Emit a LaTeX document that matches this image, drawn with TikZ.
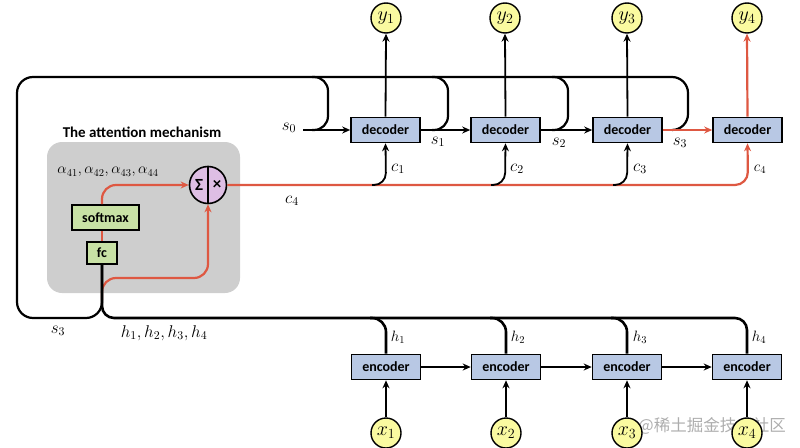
\RequirePackage{fix-cm}
\documentclass[tikz,border=0pt]{standalone}
\usepackage{fontspec}
\setsansfont{Carlito}
\newfontfamily\cjk{Noto Sans CJK SC}
\usetikzlibrary{arrows.meta,calc}
\definecolor{myred}{RGB}{222,88,66}
\definecolor{decblue}{RGB}{184,200,228}
\definecolor{ioyellow}{RGB}{250,250,160}
\definecolor{boxgreen}{RGB}{200,225,165}
\definecolor{sigpink}{RGB}{222,190,228}
\definecolor{attgray}{RGB}{206,206,206}
\begin{document}
\begin{tikzpicture}[x=1pt,y=-1pt,
  box/.style={draw, line width=1.6pt, minimum width=69pt, minimum height=25pt, inner sep=0pt, font=\sffamily\bfseries\fontsize{14}{14}\selectfont},
  codebox/.style={box, fill=decblue},
  grbox/.style={box, fill=boxgreen},
  io/.style={circle, draw, line width=1.4pt, fill=ioyellow, minimum size=30pt, inner sep=0pt, font=\fontsize{20}{20}\selectfont},
  bus/.style={line width=2.2pt},
  hbus/.style={line width=2.6pt},
  arr/.style={line width=1.8pt, -{Stealth[length=8pt,width=7pt]}},
  rarr/.style={arr, myred, line width=2.2pt},
  lab/.style={inner sep=0pt, font=\fontsize{17}{17}\selectfont},
  slab/.style={inner sep=0pt, font=\fontsize{15}{15}\selectfont}]
\useasboundingbox (0,0) rectangle (800,447);
\node[inner sep=0pt, text=black!40, opacity=0.8, font=\cjk\fontsize{16.5}{16.5}\selectfont] (wm) at (712,426) {@稀土掘金技术社区};
% attention background
\node[fill=attgray, rounded corners=15pt, minimum width=193pt, minimum height=151pt, inner sep=0pt] (att) at (143.5,217.5) {};
\node[inner sep=0pt, font=\sffamily\bfseries\fontsize{15}{15}\selectfont] (title) at (142,132) {The attention mechanism};
% nodes
\node[codebox] (dec1) at (385.5,130) {decoder};
\node[codebox] (dec2) at (505.5,130) {decoder};
\node[codebox] (dec3) at (627.5,130) {decoder};
\node[codebox] (dec4) at (747.5,130) {decoder};
\node[io] (y1) at (386,18) {$y_1$};
\node[io] (y2) at (505,18) {$y_2$};
\node[io] (y3) at (627,18) {$y_3$};
\node[io] (y4) at (747,18) {$y_4$};
\node[codebox] (enc1) at (386,367) {encoder};
\node[codebox] (enc2) at (506,367) {encoder};
\node[codebox] (enc3) at (627,367) {encoder};
\node[codebox] (enc4) at (747,367) {encoder};
\node[io] (x1) at (386,433) {$x_1$};
\node[io] (x2) at (506,433) {$x_2$};
\node[io] (x3) at (627,433) {$x_3$};
\node[io] (x4) at (747,433) {$x_4$};
\node[grbox, minimum width=67pt] (softmax) at (105.5,217.5) {softmax};
\node[grbox, minimum width=30pt, minimum height=22pt] (fc) at (102,253) {fc};
\node[circle, draw, line width=1.6pt, fill=sigpink, minimum size=37pt, inner sep=0pt] (sig) at (208,185) {};
% red attention paths (below black)
\draw[myred, line width=2.2pt] (fc.north) -- (softmax.south -| fc.north);
\draw[rarr, rounded corners=14pt] (softmax.north -| fc.north) -- (102,185) -- (sig.west);
\draw[rarr, rounded corners=14pt] (102,300) -- (102,278) -- (208,278) -- (sig.south);
\draw[line width=1.6pt] (sig.north) -- (sig.south);
\node[inner sep=0pt, font=\sffamily\bfseries\fontsize{17}{17}\selectfont] (sigma) at ($(sig.center)+(-9,0)$) {Σ};
\node[inner sep=0pt, font=\sffamily\bfseries\fontsize{17}{17}\selectfont] (times) at ($(sig.center)+(9,0)$) {×};
% c lines
\draw[rarr, rounded corners=13pt] (sig.east) -- (748,185) -- (dec4.south);
\draw[arr, rounded corners=12pt] (372,185) -- (386,185) -- (dec1.south);
\draw[arr, rounded corners=12pt] (491,185) -- (505,185) -- (dec2.south);
\draw[arr, rounded corners=12pt] (613,185) -- (627,185) -- (dec3.south);
% top feedback bus (s3 back to attention)
\draw[bus, rounded corners=16pt] (672,130) -- (688,130) -- (688,77) -- (17,77) -- (17,318) -- (102,318) -- (fc.south);
\draw[bus, rounded corners=14pt] (312,130) -- (328,130) -- (328,77) -- (312,77);
\draw[bus, rounded corners=14pt] (432,130) -- (448,130) -- (448,77) -- (432,77);
\draw[bus, rounded corners=14pt] (552,130) -- (568,130) -- (568,77) -- (552,77);
% decoder chain
\coordinate (s0start) at (303,130);
\draw[arr] (s0start) -- (dec1.west);
\draw[arr] (dec1.east) -- (dec2.west);
\draw[arr] (dec2.east) -- (dec3.west);
\draw[rarr] (dec3.east) -- (dec4.west);
\draw[arr] (dec1.north) -- (y1.south);
\draw[arr] (dec2.north) -- (y2.south);
\draw[arr] (dec3.north) -- (y3.south);
\draw[rarr] (dec4.north) -- (y4.south);
% h bus
\draw[hbus, rounded corners=12pt] (fc.south) -- (102,318) -- (747,318) -- (enc4.north);
\draw[hbus, rounded corners=14pt] (enc1.north) -- (386,318) -- (370,318);
\draw[hbus, rounded corners=14pt] (enc2.north) -- (506,318) -- (490,318);
\draw[hbus, rounded corners=14pt] (enc3.north) -- (627,318) -- (611,318);
% encoder chain
\draw[arr] (enc1.east) -- (enc2.west);
\draw[arr] (enc2.east) -- (enc3.west);
\draw[arr] (enc3.east) -- (enc4.west);
\draw[arr] (x1.north) -- (enc1.south);
\draw[arr] (x2.north) -- (enc2.south);
\draw[arr] (x3.north) -- (enc3.south);
\draw[arr] (x4.north) -- (enc4.south);
% labels
\node[lab] (ls0) at (289,128) {$s_0$};
\node[lab] (ls1) at (438,142) {$s_1$};
\node[lab] (ls2) at (559,143) {$s_2$};
\node[lab] (ls3) at (680,143) {$s_3$};
\node[lab] (lc1) at (398,169) {$c_1$};
\node[lab] (lc2) at (517,169) {$c_2$};
\node[lab] (lc3) at (640,169) {$c_3$};
\node[slab] (lc4) at (760,169) {$c_4$};
\node[lab] (lc4b) at (292,201) {$c_4$};
\node[slab] (lh1) at (398,337) {$h_1$};
\node[slab] (lh2) at (518,337) {$h_2$};
\node[slab] (lh3) at (640,337) {$h_3$};
\node[slab] (lh4) at (759,337) {$h_4$};
\node[lab] (lhs) at (164,333) {$h_1,h_2,h_3,h_4$};
\node[lab] (lsb) at (58,331) {$s_3$};
\node[slab] (lalpha) at (108,172) {$\alpha_{41},\alpha_{42},\alpha_{43},\alpha_{44}$};
\end{tikzpicture}
\end{document}
